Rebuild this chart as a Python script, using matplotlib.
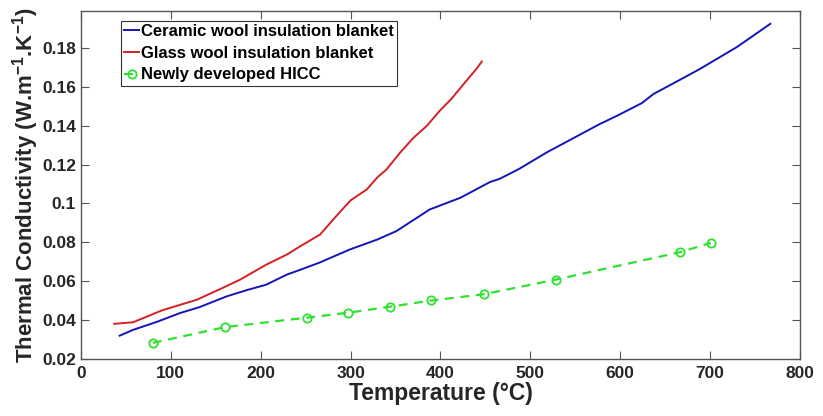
import matplotlib
matplotlib.use('Agg')
import matplotlib.pyplot as plt

plt.rcParams['font.family'] = ['Liberation Sans', 'DejaVu Sans']
plt.rcParams['font.weight'] = 'bold'
plt.rcParams['mathtext.fontset'] = 'custom'
plt.rcParams['mathtext.rm'] = 'Liberation Sans:bold'
plt.rcParams['mathtext.bf'] = 'Liberation Sans:bold'

# ceramic wool blanket
ceramic_t = [43, 58, 85, 110, 132, 162, 185, 206, 229, 244, 265, 299, 330, 351, 388,
             422, 455, 466, 488, 518, 577, 596, 624, 637, 660, 688, 730, 767]
ceramic_k = [0.032, 0.035, 0.0392, 0.0436, 0.0467, 0.0522, 0.0555, 0.0582, 0.0634,
             0.0659, 0.0695, 0.0763, 0.0815, 0.0858, 0.0969, 0.1029, 0.111, 0.1127,
             0.1179, 0.1262, 0.1408, 0.145, 0.1516, 0.1563, 0.162, 0.169, 0.1805, 0.1924]

# glass wool blanket
glass_t = [37, 58, 90, 129, 155, 177, 206, 229, 244, 266, 285, 300, 318, 330, 340,
           355, 370, 385, 399, 412, 425, 440, 446]
glass_k = [0.0381, 0.0389, 0.045, 0.0505, 0.056, 0.0608, 0.0685, 0.0737, 0.078,
           0.084, 0.094, 0.1016, 0.1072, 0.1135, 0.1175, 0.1261, 0.1338, 0.14,
           0.1476, 0.1537, 0.161, 0.1692, 0.173]

# HICC measurements
hicc_t = [80, 160, 252, 297, 344, 390, 448, 528, 666, 701]
hicc_k = [0.0283, 0.0364, 0.0413, 0.0438, 0.0469, 0.0501, 0.0533, 0.0608, 0.0749, 0.0797]

fig = plt.figure(figsize=(8.23, 4.16), dpi=100)
ax = fig.add_axes([0.0984, 0.137, 0.8736, 0.8366])

ax.plot(ceramic_t, ceramic_k, color='#1414b8', lw=1.4, label='Ceramic wool insulation blanket')
ax.plot(glass_t, glass_k, color='#d42020', lw=1.4, label='Glass wool insulation blanket')
ax.plot(hicc_t, hicc_k, color='#2fe02f', lw=1.6, ls=(0, (4, 3)), marker='o', ms=6,
        mfc='none', mew=1.3, label='Newly developed HICC')

ax.set_xlim(0, 800)
ax.set_ylim(0.02, 0.199)
ax.set_xticks(range(0, 801, 100))
ax.set_yticks([0.02, 0.04, 0.06, 0.08, 0.1, 0.12, 0.14, 0.16, 0.18])
ax.set_yticklabels(['0.02', '0.04', '0.06', '0.08', '0.1', '0.12', '0.14', '0.16', '0.18'])

grey = '#262626'
for s in ax.spines.values():
    s.set_color('#555555')
    s.set_linewidth(1.0)
ax.tick_params(direction='in', top=True, right=True, length=6, width=0.8,
               colors='#555555', labelcolor=grey, labelsize=12.5)
ax.tick_params(axis='x', pad=5)
for lab in ax.get_xticklabels() + ax.get_yticklabels():
    lab.set_fontweight('bold')

ax.set_xlabel('Temperature (°C)', fontsize=16.5, fontweight='bold', color=grey, labelpad=1)
ax.set_ylabel('Thermal Conductivity (W.m$^{-1}$.K$^{-1}$)', fontsize=16,
              fontweight='bold', color=grey, labelpad=1)

leg = ax.legend(loc='upper left', bbox_to_anchor=(0.0556, 0.972), fontsize=12,
                handlelength=0.9, handletextpad=0.1, borderpad=0.2, labelspacing=0.4,
                fancybox=False, framealpha=1, edgecolor='#333333', borderaxespad=0)
leg.get_frame().set_linewidth(0.8)
for t in leg.get_texts():
    t.set_color('black')
    t.set_fontweight('bold')

fig.savefig('out.png', dpi=100)
